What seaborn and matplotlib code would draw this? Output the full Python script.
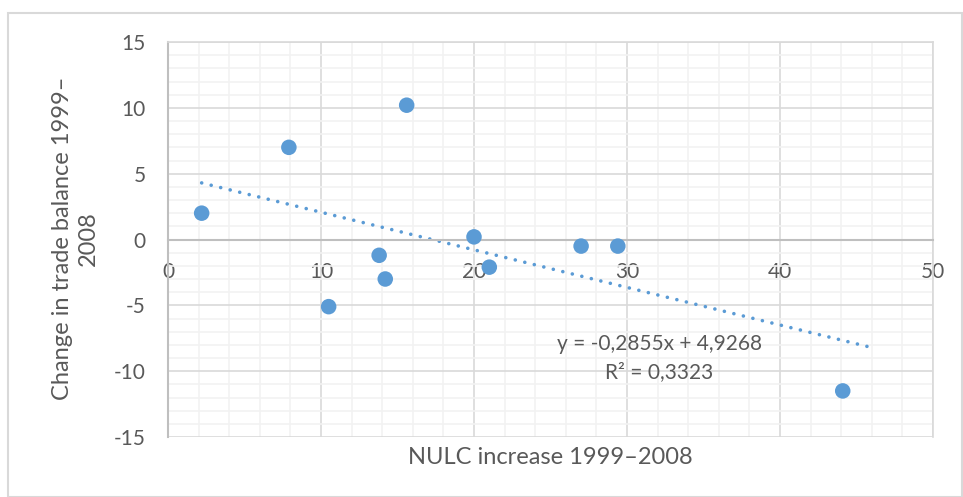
import numpy as np
import pandas as pd
import matplotlib
matplotlib.use("Agg")
import matplotlib.pyplot as plt
import seaborn as sns
from matplotlib.patches import Rectangle
from matplotlib.ticker import MultipleLocator

# ---- data ----
nulc_increase = [2.2, 7.9, 15.6, 10.5, 13.8, 14.2, 20.0, 21.0, 27.0, 29.4, 44.1]
trade_balance_change = [2.0, 7.0, 10.2, -5.1, -1.2, -3.0, 0.2, -2.1, -0.5, -0.5, -11.5]
trend_slope = -0.2855
trend_intercept = 4.9268
r_squared = 0.3323
trend_forward = 2.0
x_label = "NULC increase 1999–2008"
y_label = "Change in trade balance 1999–\n2008"
x_ticks = [0, 10, 20, 30, 40, 50]
y_ticks = [-15, -10, -5, 0, 5, 10, 15]

df = pd.DataFrame({"x": nulc_increase, "y": trade_balance_change})

sns.set_theme(style="white")
plt.rcParams["font.family"] = ["Lato", "DejaVu Sans"]

W, H = 963, 497
fig = plt.figure(figsize=(W / 100, H / 100), dpi=100)
fig.patch.set_facecolor("white")

# outer chart frame
fig.patches.append(Rectangle((8 / W, 0), (962 - 8) / W, 1 - 13 / H,
                             transform=fig.transFigure, fill=False,
                             edgecolor="#D9D9D9", linewidth=1.5, zorder=0))

left, right, top, bottom = 168 / W, 933 / W, 1 - 42 / H, 1 - 437 / H
ax = fig.add_axes([left, bottom, right - left, top - bottom])

blue = "#5B9BD5"
text_col = "#595959"
axis_col = "#BFBFBF"

ax.set_xlim(0, 50)
ax.set_ylim(-15, 15)
ax.xaxis.set_major_locator(MultipleLocator(10))
ax.xaxis.set_minor_locator(MultipleLocator(2))
ax.yaxis.set_major_locator(MultipleLocator(5))
ax.yaxis.set_minor_locator(MultipleLocator(1))
ax.grid(which="minor", color="#F2F2F2", linewidth=1.2, zorder=0)
ax.grid(which="major", color="#D9D9D9", linewidth=1.2, zorder=0)
ax.set_axisbelow(True)

for s in ["top", "right"]:
    ax.spines[s].set_color("#D9D9D9")
    ax.spines[s].set_linewidth(1.2)
ax.spines["left"].set_color(axis_col)
ax.spines["left"].set_linewidth(1.5)
ax.spines["left"].set_position(("data", 0))
ax.spines["bottom"].set_color(axis_col)
ax.spines["bottom"].set_linewidth(1.5)
ax.spines["bottom"].set_position(("data", 0))

ax.set_xticks(x_ticks)
ax.set_yticks(y_ticks)
ax.set_xticklabels([str(v) for v in x_ticks])
ax.set_yticklabels([str(v) for v in y_ticks])
ax.tick_params(axis="both", which="major", direction="out", length=5, width=1.2,
               color=axis_col, labelcolor=text_col, labelsize=15)
ax.tick_params(axis="both", which="minor", length=0)
ax.tick_params(axis="x", pad=11)
ax.tick_params(axis="y", pad=11)

# trendline
x0 = min(nulc_increase)
x1 = max(nulc_increase) + trend_forward
tx = np.array([x0, x1])
ax.plot(tx, trend_slope * tx + trend_intercept, color=blue, linewidth=2.6,
        linestyle=(0, (0.01, 2.7)), dash_capstyle="round", zorder=2)

sns.scatterplot(data=df, x="x", y="y", ax=ax, color=blue, s=125,
                edgecolor="none", zorder=3, legend=False)

ax.set_xlabel("")
ax.set_ylabel("")
fig.text((168 + 933) / 2 / W, 1 - 458 / H, x_label, ha="center", va="center",
         color=text_col, fontsize=17)
fig.text(75.5 / W, 1 - 238.5 / H, y_label, ha="center", va="center", rotation=90,
         color=text_col, fontsize=17, linespacing=1.3, multialignment="center")

ax.text(32.1, -7.9, f"y = {trend_slope:.4f}x + {trend_intercept:.4f}".replace(".", ","),
        ha="center", va="center", color=text_col, fontsize=15)
ax.text(32.1, -10.1, f"R² = {r_squared:.4f}".replace(".", ","),
        ha="center", va="center", color=text_col, fontsize=15)

fig.savefig("out.png", dpi=100, facecolor="white")
